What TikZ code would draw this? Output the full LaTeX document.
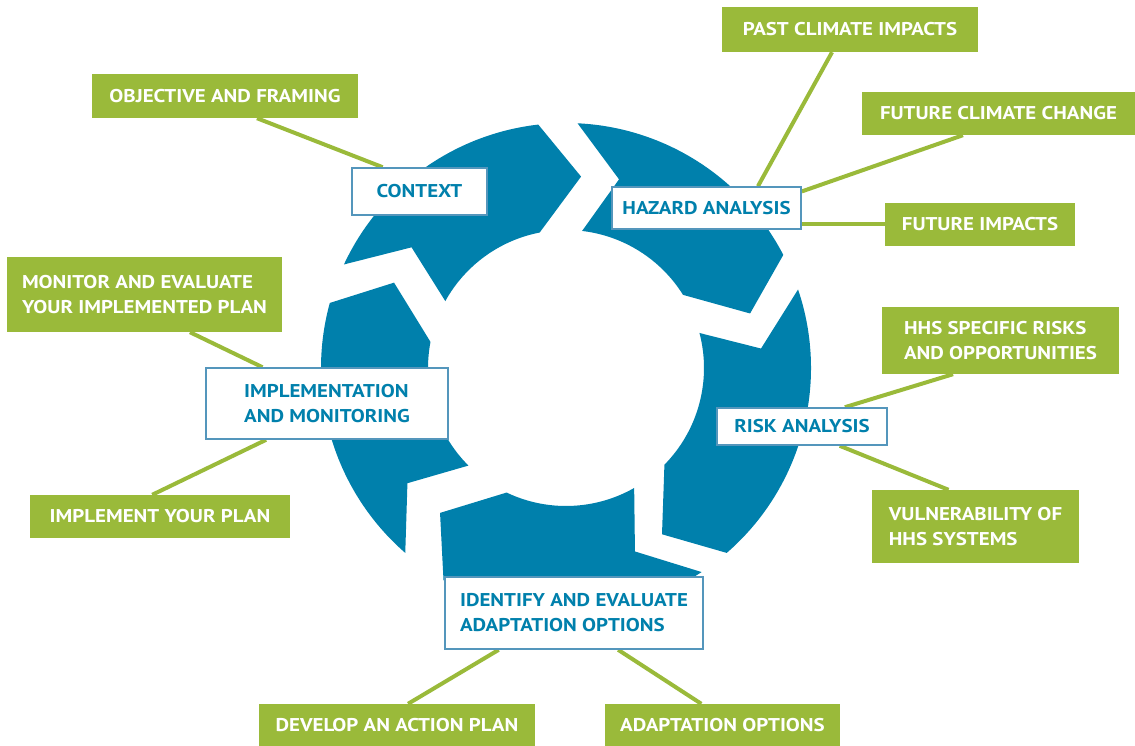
\documentclass[tikz,border=0pt]{standalone}
\usepackage{fontspec}
\setmainfont{PT Sans}[FakeStretch=1.13]
\usetikzlibrary{calc}

\pgfdeclarelayer{background}
\pgfsetlayers{background,main}

\definecolor{ringblue}{RGB}{0,128,172}
\definecolor{boxline}{RGB}{84,150,188}
\definecolor{leaf}{RGB}{154,186,58}

\tikzset{
  stage/.style={draw=boxline, line width=1.6pt, fill=white, text=ringblue,
    font=\bfseries\fontsize{18.5}{25}\selectfont, align=left, inner sep=0pt},
  task/.style={fill=leaf, text=white,
    font=\bfseries\fontsize{18.5}{25}\selectfont, align=left, inner sep=0pt},
  link/.style={draw=leaf, line width=4pt},
}

\begin{document}
\begin{tikzpicture}[x=1pt, y=-1pt]
  \useasboundingbox (0,0) rectangle (1135,746);

  % the five stages sitting on the ring
  \node[stage, minimum width=135, minimum height=47] (context) at (419.5,191.5) {CONTEXT};
  \node[stage, minimum width=189, minimum height=42] (hazard) at (706.5,208) {HAZARD ANALYSIS};
  \node[stage, minimum width=170, minimum height=37] (risk) at (802,426.5) {RISK ANALYSIS};
  \node[stage, minimum width=258, minimum height=72] (options) at (574,613) {IDENTIFY AND EVALUATE\\ADAPTATION OPTIONS};
  \node[stage, minimum width=242, minimum height=71] (implement) at (327,403.5) {IMPLEMENTATION\\AND MONITORING};

  % tasks around the outside
  \node[task, minimum width=266, minimum height=44] (framing) at (225,96) {OBJECTIVE AND FRAMING};
  \node[task, minimum width=256, minimum height=45] (past) at (850,29.5) {PAST CLIMATE IMPACTS};
  \node[task, minimum width=273, minimum height=43] (future) at (998.5,113.5) {FUTURE CLIMATE CHANGE};
  \node[task, minimum width=190, minimum height=43] (impacts) at (980,224.5) {FUTURE IMPACTS};
  \node[task, minimum width=237, minimum height=67] (specific) at (1000.5,340.5) {HHS SPECIFIC RISKS\\AND OPPORTUNITIES};
  \node[task, minimum width=207, minimum height=73] (vulner) at (975.5,526.5) {VULNERABILITY OF\\HHS SYSTEMS};
  \node[task, minimum width=275, minimum height=75] (monitor) at (144.5,294.5) {MONITOR AND EVALUATE\\YOUR IMPLEMENTED PLAN};
  \node[task, minimum width=260, minimum height=43] (yourplan) at (160,516.5) {IMPLEMENT YOUR PLAN};
  \node[task, minimum width=276, minimum height=42] (actionplan) at (397,725) {DEVELOP AN ACTION PLAN};
  \node[task, minimum width=235, minimum height=42] (adapt) at (722.5,725) {ADAPTATION OPTIONS};

  \begin{pgfonlayer}{background}
    % ring of arrows, clockwise: tail notch at \s, head at \e
    \begin{scope}[shift={(566,368)}, yscale=-1]
      \foreach \s/\e in {155/96.5, 87.3/27.5, 18.7/-49, -56.4/-120, -131/-195.4}
        \fill[ringblue] (\s:245) arc (\s:\e:245) -- (\e-11:192) -- (\e+4.5:138)
          arc (\e+4.5:\s-4:138) -- (\s-13:196) -- cycle;
    \end{scope}

    % links from tasks to stages
    \draw[link] ($(framing.south west)!.62!(framing.south east)$) -- ($(context.north west)!.23!(context.north east)$);
    \draw[link] ($(past.south west)!.43!(past.south east)$) -- ($(hazard.north west)!.77!(hazard.north east)$);
    \draw[link] ($(future.south west)!.37!(future.south east)$) -- ($(hazard.north east)!.12!(hazard.south east)$);
    \draw[link] (impacts.west) -- (impacts.west -| hazard.east);
    \draw[link] ($(specific.south west)!.30!(specific.south east)$) -- ($(risk.north west)!.75!(risk.north east)$);
    \draw[link] ($(vulner.north west)!.37!(vulner.north east)$) -- ($(risk.south west)!.72!(risk.south east)$);
    \draw[link] ($(monitor.south west)!.665!(monitor.south east)$) -- ($(implement.north west)!.235!(implement.north east)$);
    \draw[link] ($(yourplan.north west)!.47!(yourplan.north east)$) -- ($(implement.south west)!.25!(implement.south east)$);
    \draw[link] ($(actionplan.north west)!.54!(actionplan.north east)$) -- ($(options.south west)!.21!(options.south east)$);
    \draw[link] ($(adapt.north west)!.41!(adapt.north east)$) -- ($(options.south west)!.67!(options.south east)$);
  \end{pgfonlayer}
\end{tikzpicture}
\end{document}
